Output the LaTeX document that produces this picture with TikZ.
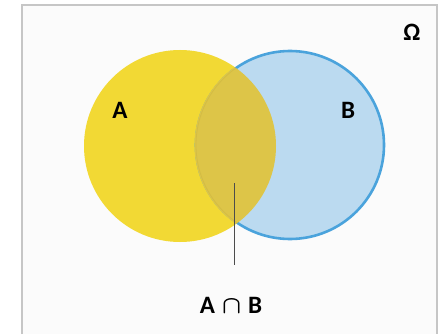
\documentclass[tikz,border=0pt]{standalone}
\usepackage{fontspec}
\setmainfont{Carlito}
\definecolor{setA}{HTML}{F2D934}
\definecolor{setB}{HTML}{BBDAF0}
\definecolor{edgeB}{HTML}{4AA3DC}
\definecolor{common}{HTML}{DDC548}
\begin{document}
\begin{tikzpicture}[x=1pt,y=-1pt,font=\fontsize{25}{29}\selectfont\bfseries,
	setcirc/.style={circle,minimum size=192pt,inner sep=0pt}]
		\useasboundingbox (0,0) rectangle (446,334);
		\fill[white] (0,0) rectangle (446,334);
		\fill[gray!3] (22,5) rectangle (437,334);
		\draw[gray!45,line width=1.4pt] (22,334) -- (22,5) -- (437,5) -- (437,334);
		\node[setcirc,fill=setA] (A) at (180,146) {};
		\node[setcirc,fill=setB,draw=edgeB,line width=2.6pt,minimum size=188pt] (B) at (290,145) {};
		\begin{scope}
			\clip (180,146) circle (96);
			\fill[common] (290,145) circle (95.5);
			\draw[common!85!black,opacity=0.3,line width=0.8pt] (290,145) circle (94);
		\end{scope}
		\node at (120,110) {A};
		\node at (348,110) {B};
		\node at (412,32) {Ω};
		\node (AB) at (231,305) {A\;{\boldmath$\cap$}\;B};
		\coordinate (AiB) at (234,183);
		\draw[black!70,line width=0.9pt,shorten >=28pt] (AiB) -- (AB.north -| AiB);
\end{tikzpicture}
\end{document}
